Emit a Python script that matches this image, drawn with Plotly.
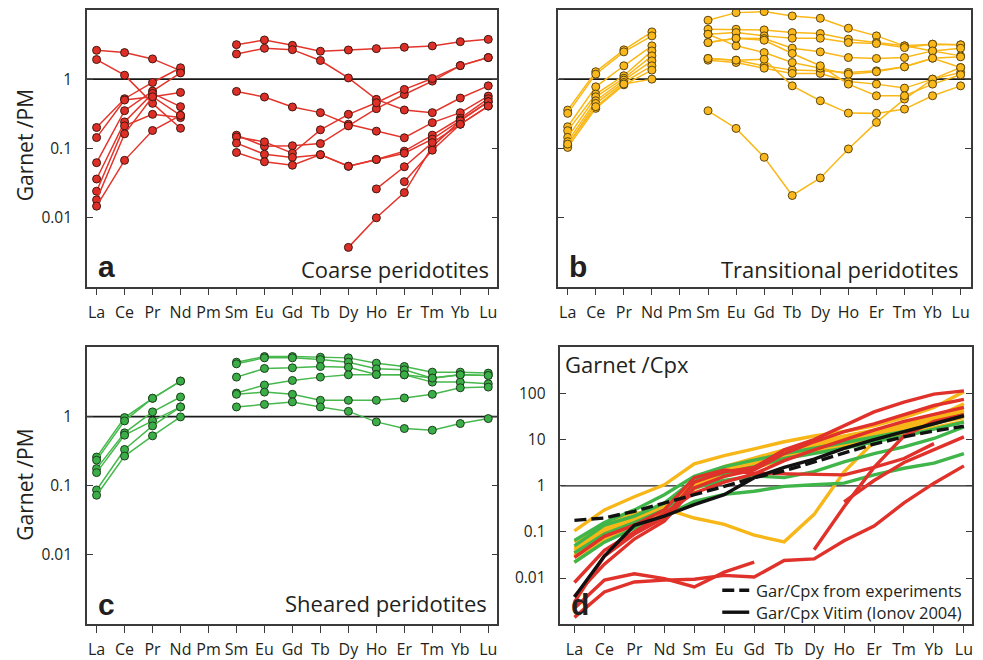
import plotly.graph_objects as go

# ---------------- data ----------------
EL15 = ["La", "Ce", "Pr", "Nd", "Pm", "Sm", "Eu", "Gd", "Tb", "Dy", "Ho", "Er", "Tm", "Yb", "Lu"]
EL14 = ["La", "Ce", "Pr", "Nd", "Sm", "Eu", "Gd", "Tb", "Dy", "Ho", "Er", "Tm", "Yb", "Lu"]
N = None

# Garnet/PM, coarse peridotites (La..Lu incl. Pm gap)
COARSE = [
    [2.61, 2.42, 1.96, 1.33, N, 3.15, 3.68, 3.08, 2.53, 2.64, 2.76, 2.89, 3.02, 3.48, 3.76],
    [1.92, 1.14, 0.447, 0.195, N, 2.31, 2.79, 2.67, 1.86, 1.04, 0.51, 0.358, 0.328, 0.533, 0.80],
    [0.20, 0.521, 0.895, 1.46, N, 0.665, 0.551, 0.396, 0.328, 0.223, 0.177, 0.142, 0.235, 0.328, 0.569],
    [0.143, 0.499, 0.557, 0.643, N, 0.155, 0.107, 0.109, 0.117, 0.211, 0.374, 0.60, 0.936, 1.57, 2.05],
    [0.062, 0.35, 0.672, 1.23, N, 0.146, 0.124, 0.085, 0.185, 0.310, 0.456, 0.71, 1.02, 1.57, 2.05],
    [0.036, 0.241, 0.622, 0.40, N, 0.119, 0.082, 0.074, 0.081, 0.055, 0.069, 0.091, 0.155, 0.272, 0.521],
    [0.024, 0.211, 0.310, 0.278, N, 0.087, 0.064, 0.057, 0.081, 0.055, 0.069, 0.085, 0.136, 0.257, 0.472],
    [0.018, 0.162, 0.557, 0.30, N, N, N, N, N, 0.0037, 0.0099, 0.0229, 0.106, 0.249, 0.472],
    [0.0146, 0.067, 0.181, 0.30, N, N, N, N, N, N, 0.0259, 0.0542, 0.121, 0.223, 0.409],
    [N, N, N, N, N, N, N, N, N, N, N, 0.033, 0.094, 0.223, 0.409],
]

TRANSITIONAL = [
    [0.357, 1.28, 2.65, 4.82, N, 7.1, 9.15, 9.46, 8.19, 7.59, 5.44, 4.22, 3.03, 3.2, 3.13],
    [0.32, 1.18, 2.48, 4.22, N, 5.26, 5.26, 5.15, 4.71, 4.56, 3.78, 3.38, 3.03, 2.56, 2.17],
    [0.205, 0.775, 1.56, 3.03, N, 4.46, 4.71, 4.22, 3.90, 3.90, 3.38, 3.27, 2.86, 3.2, 3.13],
    [0.18, 0.608, 1.12, 2.56, N, 3.38, 3.90, 3.86, 2.80, 2.48, 2.05, 1.99, 2.05, 2.56, 2.80],
    [0.144, 0.556, 1.03, 2.17, N, 1.99, 1.88, 1.56, 1.35, 1.32, 1.25, 1.32, 1.51, 2.01, 2.10],
    [0.125, 0.487, 0.967, 1.84, N, 1.88, 1.74, 1.44, 1.21, 1.21, 0.925, 0.847, 0.742, 1.0, 1.47],
    [0.11, 0.446, 0.895, 1.56, N, 0.349, 0.194, 0.0742, 0.0208, 0.0373, 0.098, 0.237, 0.515, 1.0, 1.25],
    [0.103, 0.378, 0.828, 1.35, N, 4.46, 3.03, 2.42, 1.74, 1.44, 1.18, 1.28, 1.51, 2.01, 1.47],
    [0.115, 0.40, 0.85, 1.0, N, 3.38, 3.90, 3.65, 2.35, 1.56, 0.847, 0.575, 0.575, 0.847, 1.155],
    [N, N, N, N, N, 1.99, 1.88, 1.94, 0.80, 0.487, 0.323, 0.32, 0.369, 0.575, 0.80],
]

SHEARED = [
    [0.26, 0.967, 1.84, 3.26, N, 6.12, 7.38, 7.38, 7.22, 7.06, 5.92, 5.30, 4.39, 4.39, 4.25],
    [0.235, 0.867, 1.84, 3.26, N, 5.79, 7.06, 7.06, 6.68, 6.12, 4.90, 4.74, 3.60, 4.02, 3.93],
    [0.177, 0.582, 1.17, 1.92, N, 3.72, 4.96, 5.07, 5.30, 5.18, 4.06, 4.02, 3.15, 3.15, 2.98],
    [0.155, 0.539, 0.867, 1.38, N, 2.19, 2.86, 3.33, 3.72, 4.02, 4.06, 4.02, 3.60, 4.02, 3.93],
    [0.087, 0.335, 0.734, 1.38, N, 2.10, 2.26, 2.10, 1.72, 1.72, 1.72, 1.86, 2.10, 2.61, 2.67],
    [0.073, 0.269, 0.527, 0.99, N, 1.38, 1.50, 1.63, 1.38, 1.19, 0.838, 0.672, 0.636, 0.793, 0.936],
]

# Garnet/Cpx (La..Lu without Pm)
GC_ORANGE = [
    [0.105, 0.30, 0.58, 1.05, 3.0, 4.5, 6.3, 9.0, 12, 15, 20, 30, 50, 110],
    [0.06, 0.15, 0.25, 0.32, 0.20, 0.146, 0.085, 0.061, 0.24, 2.0, 9.0, 16, 30, 60],
    [0.045, 0.12, 0.22, 0.40, 1.3, 2.6, 4.0, 6.0, 8.5, 12, 16, 22, 32, 45],
    [0.04, 0.11, 0.21, 0.37, 1.2, 2.4, 3.6, 5.5, 8.0, 11, 15, 20, 30, 42],
    [0.035, 0.10, 0.20, 0.35, 1.1, 2.2, 3.2, 5.0, 7.5, 10, 14, 19, 27, 38],
    [0.031, 0.092, 0.18, 0.32, 1.0, 2.0, 3.0, 4.6, 6.8, 9.2, 13, 17, 25, 34],
    [0.028, 0.085, 0.17, 0.30, 0.95, 1.9, 2.8, 4.3, 6.3, 8.5, 12, 16, 23, 30],
    [0.022, 0.07, 0.14, 0.26, 0.85, 1.6, 2.4, 3.8, 5.5, 7.5, 10, 14, 19, 25],
]
GC_GREEN = [
    [0.065, 0.16, 0.30, 0.64, 1.6, 2.6, 3.6, 5.0, 6.5, 8.5, 11, 15, 22, 35],
    [0.05, 0.14, 0.22, 0.42, 1.35, 1.9, 2.6, 3.9, 5.0, 6.5, 9.0, 12, 17, 24],
    [0.035, 0.09, 0.16, 0.30, 0.9, 1.3, 1.64, 1.5, 2.03, 3.3, 5.0, 7.0, 10.6, 18.9],
    [0.022, 0.06, 0.12, 0.22, 0.46, 0.65, 0.76, 0.97, 1.05, 1.14, 1.72, 2.4, 3.1, 5.0],
]
GC_RED = [
    [0.0014, 0.005, 0.0082, 0.009, 0.0094, 0.0114, 0.0105, 0.024, 0.026, 0.064, 0.134, 0.425, 1.14, 2.7],
    [0.0022, 0.009, 0.0124, 0.0097, 0.0064, 0.0134, 0.022, N, N, N, N, N, N, N],
    [0.003, 0.03, 0.09, 0.2, 1.2, 2.0, 2.5, 6.0, 10, 20, 40, 65, 97, 114],
    [0.004, 0.02, 0.07, 0.17, 0.9, 1.6, 2.2, 5.0, 9.0, 15, 22, 35, 55, 75],
    [0.008, 0.04, 0.10, 0.25, 0.7, 1.2, 1.8, 3.5, 6.0, 10, 16, 25, 35, 50],
    [0.028, 0.08, 0.14, 0.30, 1.5, 2.2, 1.87, 1.8, 1.72, 1.72, 2.5, 3.9, 8.2, N],
    [N, N, N, N, N, N, N, N, 0.041, 0.35, 2.5, 12, 25, 35],
    [N, N, N, N, N, N, N, N, N, 0.45, 1.3, 3.2, 6.0, 11.5],
]
GC_EXPERIMENTS = [0.178, 0.20, 0.28, 0.43, 0.64, 0.97, 1.5, 2.1, 3.3, 5.3, 8.0, 11.5, 15.5, 19.5]
GC_VITIM = [0.0039, 0.03, 0.139, 0.22, 0.39, 0.64, 1.5, 2.5, 3.8, 6.5, 10, 15, 22, 33]

REF_LEVEL = 1.0
Y_TICKS_PM = [0.01, 0.1, 1]
Y_TICKS_CPX = [0.01, 0.1, 1, 10, 100]

# ---------------- style ----------------
FONT = "Open Sans"
TXT = "#231f20"
FRAME = "#3a3a3a"
RED_L, RED_M = "#e3352b", "#dd2f27"
YEL_L, YEL_M = "#f9b817", "#fbb81a"
GRN_L, GRN_M = "#46b84c", "#3bae47"

W, H = 983, 660
def px(x): return x / W
def py(y): return 1 - y / H

PANELS = {
    "a": dict(xa="x", ya="y", xd=(87, 498), yd=(10, 288), xr=(-0.346, 14.33)),
    "b": dict(xa="x2", ya="y2", xd=(559, 972), yd=(10, 288), xr=(-0.33, 14.37)),
    "c": dict(xa="x3", ya="y3", xd=(87, 498), yd=(349, 627), xr=(-0.346, 14.33)),
    "d": dict(xa="x4", ya="y4", xd=(561, 973), yd=(349, 627), xr=(-0.467, 13.27)),
}

fig = go.Figure()

def ref_line(p, width):
    P = PANELS[p]
    fig.add_trace(go.Scatter(x=[P["xr"][0], P["xr"][1]], y=[REF_LEVEL, REF_LEVEL],
                             mode="lines", line=dict(color="#1a1a1a", width=width),
                             xaxis=P["xa"], yaxis=P["ya"], hoverinfo="skip", showlegend=False))

def pm_panel(p, samples, lc, mc, oc):
    ref_line(p, 1.8)
    P = PANELS[p]
    xs = list(range(len(EL15)))
    for s in samples:
        fig.add_trace(go.Scatter(x=xs, y=s, mode="lines+markers",
                                 line=dict(color=lc, width=1.5),
                                 marker=dict(size=8, color=mc, line=dict(color=oc, width=1)),
                                 xaxis=P["xa"], yaxis=P["ya"], showlegend=False))

pm_panel("a", COARSE, RED_L, RED_M, "#3b1a12")
pm_panel("b", TRANSITIONAL, YEL_L, YEL_M, "#5a4410")
pm_panel("c", SHEARED, GRN_L, GRN_M, "#1f3d1f")

# panel d
ref_line("d", 1.3)
P = PANELS["d"]
xs14 = list(range(len(EL14)))
for group, col in ((GC_ORANGE, "#f8b719"), (GC_GREEN, "#3fb54a"), (GC_RED, "#e0312a")):
    for s in group:
        fig.add_trace(go.Scatter(x=xs14, y=s, mode="lines", line=dict(color=col, width=3.4),
                                 xaxis=P["xa"], yaxis=P["ya"], showlegend=False))
fig.add_trace(go.Scatter(x=xs14, y=GC_EXPERIMENTS, mode="lines",
                         line=dict(color="#111", width=3.4, dash="12px,5px"),
                         xaxis=P["xa"], yaxis=P["ya"], showlegend=False))
fig.add_trace(go.Scatter(x=xs14, y=GC_VITIM, mode="lines",
                         line=dict(color="#111", width=3.4),
                         xaxis=P["xa"], yaxis=P["ya"], showlegend=False))

# ---------------- axes ----------------
layout_axes = {}
for i, (key, P) in enumerate(PANELS.items()):
    sfx = "" if i == 0 else str(i + 1)
    labels = EL14 if key == "d" else EL15
    layout_axes["xaxis" + sfx] = dict(
        domain=[px(P["xd"][0]), px(P["xd"][1])], range=list(P["xr"]),
        tickmode="array", tickvals=list(range(len(labels))), ticktext=labels,
        ticks="outside", ticklen=7, tickwidth=1.3, tickcolor=FRAME,
        showline=True, linecolor=FRAME, linewidth=1.5, mirror=True,
        showgrid=False, zeroline=False, anchor=P["ya"],
        tickfont=dict(family=FONT, size=16, color=TXT), ticklabelstandoff=3,
    )
    yt = Y_TICKS_CPX if key == "d" else Y_TICKS_PM
    yr = [-3, 3] if key == "d" else [-3, 1]
    layout_axes["yaxis" + sfx] = dict(
        domain=[py(P["yd"][1]), py(P["yd"][0])], type="log", range=yr,
        tickmode="array", tickvals=yt, ticktext=[("%g" % v) for v in yt],
        ticks="inside", ticklen=6, tickwidth=1.3, tickcolor=FRAME,
        showline=True, linecolor=FRAME, linewidth=1.5, mirror="ticks",
        showgrid=False, zeroline=False, anchor=P["xa"],
        showticklabels=(key != "b"),
        tickfont=dict(family=FONT, size=15.5, color=TXT), ticklabelstandoff=10,
    )

fig.update_layout(width=W, height=H, margin=dict(l=0, r=0, t=0, b=0),
                  paper_bgcolor="white", plot_bgcolor="white", showlegend=False,
                  **layout_axes)

# ---------------- text ----------------
def ann(text, x, y, size, xanchor="left", yanchor="middle", bold=False, angle=0, family=FONT):
    fig.add_annotation(text=("<b>%s</b>" % text) if bold else text, x=px(x), y=py(y),
                       xref="paper", yref="paper", showarrow=False, xanchor=xanchor,
                       yanchor=yanchor, textangle=angle,
                       font=dict(family=family, size=size, color=TXT))

ann("Garnet /PM", 25, 146, 21, xanchor="center", angle=-90)
ann("Garnet /PM", 25, 487, 21, xanchor="center", angle=-90)
for lab, x, y in (("a", 96, 268), ("b", 568, 268), ("c", 96, 607), ("d", 570, 607)):
    ann(lab, x, y, 30, bold=True, family="Liberation Sans")
ann("Coarse peridotites", 492, 270, 22, xanchor="right")
ann("Transitional peridotites", 962, 270, 22, xanchor="right")
ann("Sheared peridotites", 489, 606, 22, xanchor="right")
ann("Garnet /Cpx", 564, 366, 22)
ann("Gar/Cpx from experiments", 755, 593, 16.5)
ann("Gar/Cpx Vitim (Ionov 2004)", 755, 615, 16.5)
fig.add_shape(type="line", xref="paper", yref="paper", x0=px(723), x1=px(750), y0=py(593), y1=py(593),
              line=dict(color="#111", width=3.4, dash="12px,5px"))
fig.add_shape(type="line", xref="paper", yref="paper", x0=px(723), x1=px(750), y0=py(615), y1=py(615),
              line=dict(color="#111", width=3.4))

fig.write_html("out.html")
